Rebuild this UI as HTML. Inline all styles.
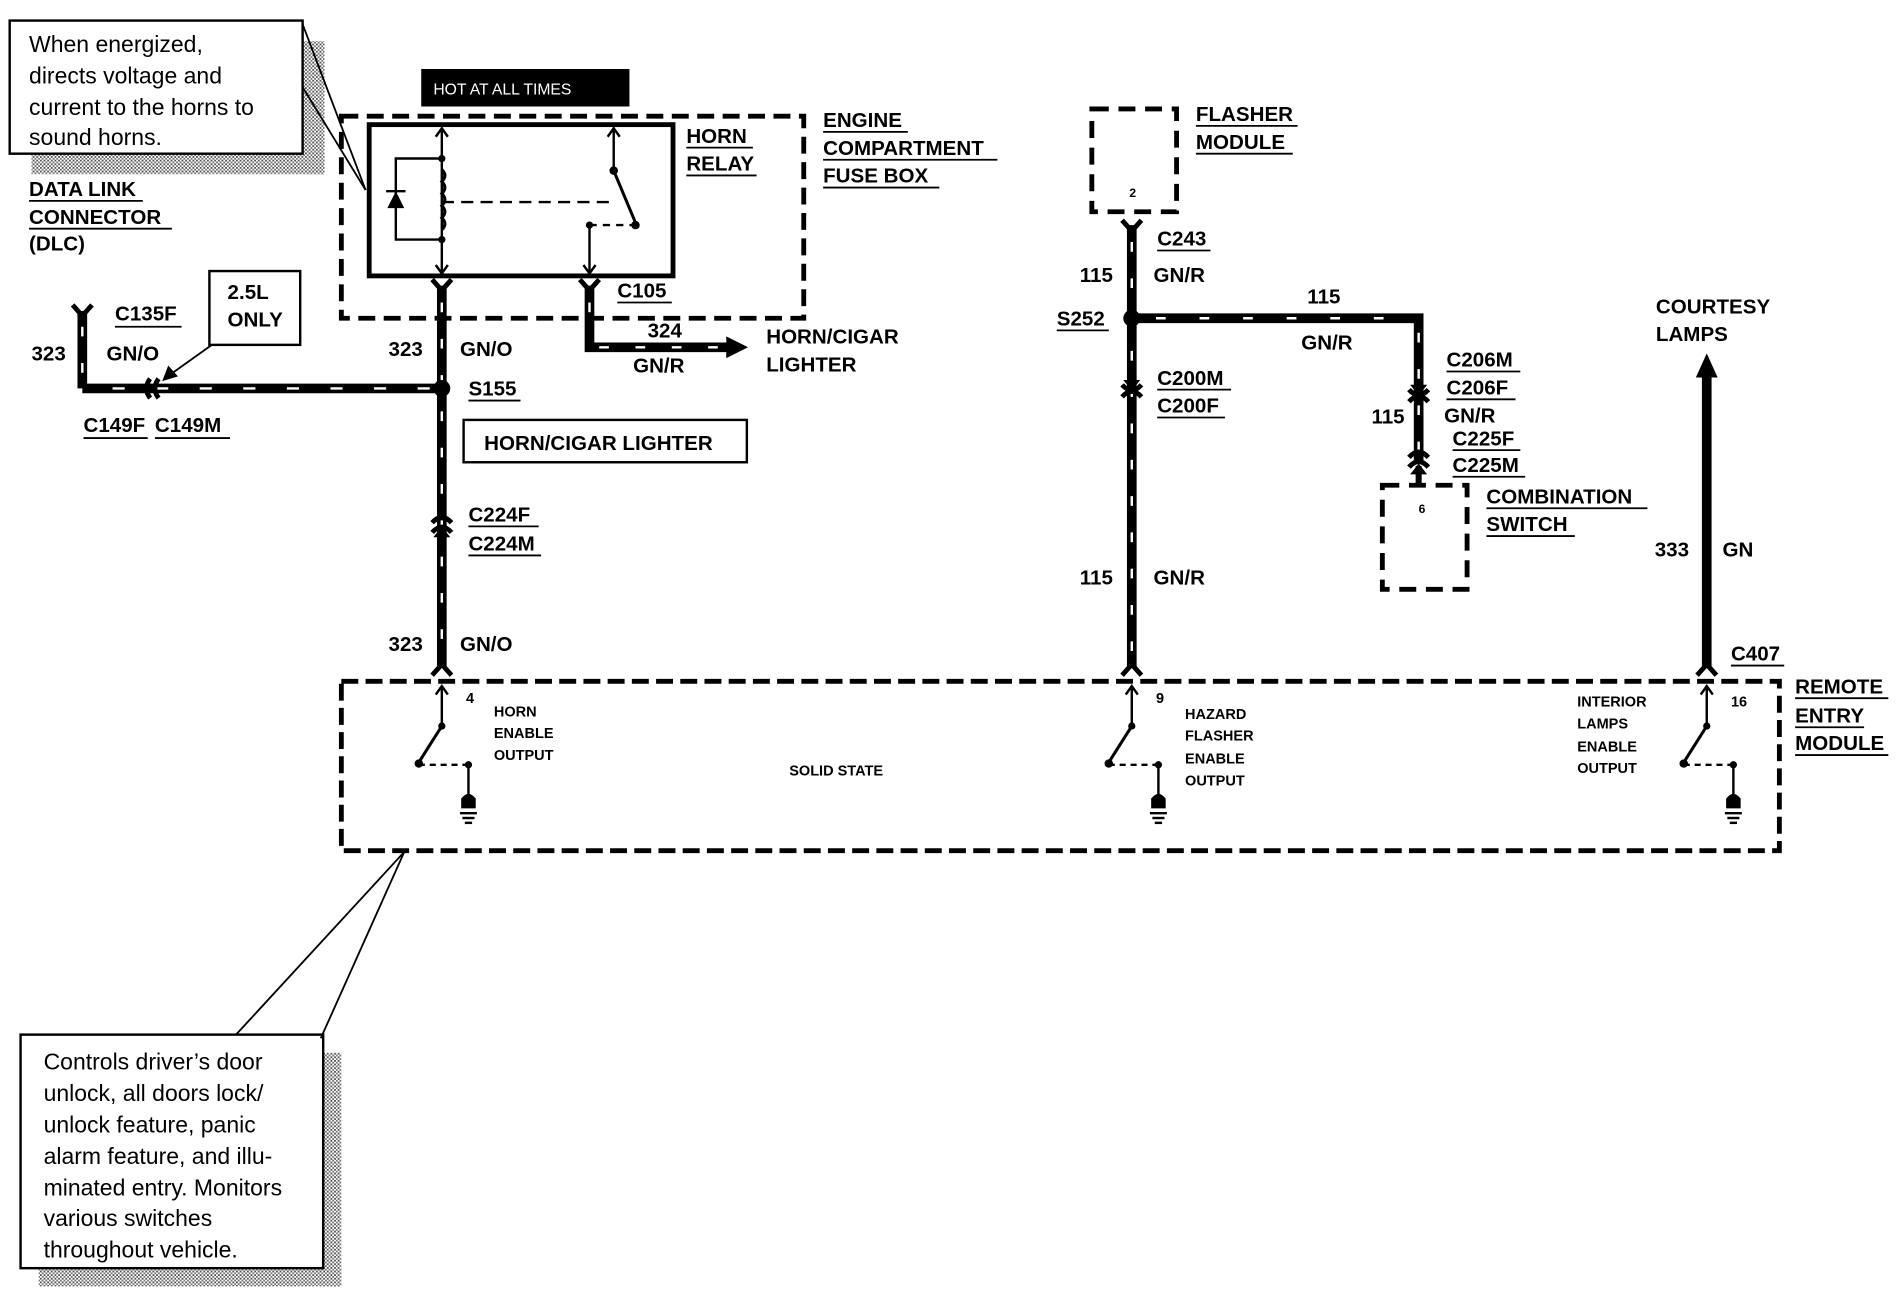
<!DOCTYPE html>
<html><head><meta charset="utf-8"><style>
html,body{margin:0;padding:0;background:#fff}
svg{display:block}
text{font-family:"Liberation Sans",Arial,sans-serif;font-weight:bold;fill:#000;font-size:17px}
.n{font-weight:normal;font-size:19px}
.s{font-size:12px}
</style></head><body>
<svg width="1898" height="1296" viewBox="0 0 1568 1071" preserveAspectRatio="none" xmlns="http://www.w3.org/2000/svg">
<defs>
<pattern id="h" width="3" height="3" patternUnits="userSpaceOnUse"><rect width="3" height="3" fill="#fff"/><rect width="1.5" height="1.5" fill="#555"/><rect x="1.5" y="1.5" width="1.5" height="1.5" fill="#777"/></pattern>
</defs>
<rect x="250" y="34" width="18" height="110" fill="url(#h)"/>
<rect x="26" y="127" width="242" height="17" fill="url(#h)"/>
<rect x="8" y="17" width="242" height="110" fill="#fff" stroke="#000" stroke-width="2"/>
<text class="n" x="24" y="43">When energized,</text>
<text class="n" x="24" y="69">directs voltage and</text>
<text class="n" x="24" y="95">current to the horns to</text>
<text class="n" x="24" y="120">sound horns.</text>
<line x1="250" y1="20" x2="302" y2="157" stroke="#000" stroke-width="1.5"/>
<line x1="250" y1="72" x2="302" y2="157" stroke="#000" stroke-width="1.5"/>

<text x="24" y="162">DATA LINK</text><line x1="24" y1="166" x2="118" y2="166" stroke="#000" stroke-width="1.5"/>
<text x="24" y="185">CONNECTOR</text><line x1="24" y1="189" x2="142" y2="189" stroke="#000" stroke-width="1.5"/>
<text x="24" y="207">(DLC)</text>

<rect x="348" y="57" width="172" height="31" fill="#000"/>
<text x="358" y="78" class="s" style="fill:#fff;font-weight:normal;font-size:13px">HOT AT ALL TIMES</text>

<rect x="282" y="96" width="382" height="167" fill="none" stroke="#000" stroke-width="4" stroke-dasharray="14 7"/>
<rect x="305" y="103" width="251" height="125" fill="none" stroke="#000" stroke-width="4"/>
<g stroke="#000" stroke-width="2" fill="none">
<line x1="365" y1="106" x2="365" y2="226"/>
<polyline points="360,113 365,106 370,113"/>
<polyline points="360,219 365,226 370,219"/>
<polyline points="365,131 327,131 327,198 365,198"/>
<path d="M365,140 q5,5 0,10 q5,5 0,10 q5,5 0,10 q5,5 0,10 q5,5 0,10" stroke-width="2.5"/>
<line x1="365" y1="167" x2="505" y2="167" stroke-dasharray="10 6"/>
<line x1="507" y1="106" x2="507" y2="141"/>
<polyline points="502,113 507,106 512,113"/>
<line x1="507" y1="141" x2="525" y2="184" stroke-width="2.5"/>
<line x1="487" y1="186" x2="525" y2="186" stroke-dasharray="6 5"/>
<line x1="487" y1="186" x2="487" y2="226"/>
<polyline points="482,219 487,226 492,219"/>
</g>
<polygon points="320,172 334,172 327,158" fill="#000"/>
<line x1="319" y1="158" x2="335" y2="158" stroke="#000" stroke-width="2"/>
<circle cx="365" cy="131" r="3" fill="#000"/><circle cx="365" cy="198" r="3" fill="#000"/>
<circle cx="507" cy="141" r="3.5" fill="#000"/><circle cx="525" cy="186" r="3.5" fill="#000"/><circle cx="487" cy="186" r="3" fill="#000"/>
<text x="567" y="118">HORN</text><line x1="567" y1="122" x2="622" y2="122" stroke="#000" stroke-width="1.5"/>
<text x="567" y="141">RELAY</text><line x1="567" y1="145" x2="625" y2="145" stroke="#000" stroke-width="1.5"/>
<text x="680" y="105">ENGINE</text><line x1="680" y1="109" x2="750" y2="109" stroke="#000" stroke-width="1.5"/>
<text x="680" y="128">COMPARTMENT</text><line x1="680" y1="132" x2="824" y2="132" stroke="#000" stroke-width="1.5"/>
<text x="680" y="151">FUSE BOX</text><line x1="680" y1="155" x2="776" y2="155" stroke="#000" stroke-width="1.5"/>

<g stroke="#000" stroke-width="8" fill="none" stroke-linejoin="miter">
<line x1="365" y1="236" x2="365" y2="552"/>
<line x1="365" y1="321" x2="68" y2="321"/>
<polyline points="68,257 68,321"/>
<polyline points="487,236 487,287 603,287"/>
<line x1="935" y1="186" x2="935" y2="552"/>
<polyline points="935,263 1172,263 1172,383"/>
<line x1="1172" y1="385" x2="1172" y2="402" stroke-width="5"/>
<line x1="1410" y1="310" x2="1410" y2="552"/>
</g>
<g stroke="#fff" stroke-width="2" fill="none">
<line x1="365" y1="250" x2="365" y2="545" stroke-dasharray="8 22"/>
<line x1="355" y1="321" x2="80" y2="321" stroke-dasharray="10 26"/>
<line x1="68" y1="270" x2="68" y2="312" stroke-dasharray="8 22"/>
<line x1="487" y1="250" x2="487" y2="280" stroke-dasharray="8 22"/>
<line x1="495" y1="287" x2="598" y2="287" stroke-dasharray="8 22"/>
<line x1="935" y1="200" x2="935" y2="545" stroke-dasharray="8 22"/>
<line x1="955" y1="263" x2="1165" y2="263" stroke-dasharray="8 28"/>
<line x1="1172" y1="275" x2="1172" y2="375" stroke-dasharray="8 22"/>
</g>
<polygon points="600,278 618,287 600,296" fill="#000"/>
<polygon points="1401,312 1410,292 1419,312" fill="#000"/>
<g stroke="#000" stroke-width="4" fill="none">
<path d="M357,231 L365,240 L373,231"/><path d="M479,231 L487,240 L495,231"/>
<path d="M60,252 L68,261 L76,252"/><path d="M927,182 L935,191 L943,182"/>
<path d="M357,558 L365,549 L373,558"/><path d="M927,558 L935,549 L943,558"/><path d="M1402,558 L1410,549 L1418,558"/>
<path d="M357,432 q8,-9 16,0"/><path d="M357,440 q8,-9 16,0"/>
<path d="M927,318 q8,9 16,0"/><path d="M927,328 q8,-9 16,0"/>
<path d="M1164,322 q8,9 16,0"/><path d="M1164,332 q8,-9 16,0"/>
<path d="M1164,378 q8,-9 16,0"/><path d="M1164,386 q8,-9 16,0"/>
<path d="M124,313 q-6,8 0,16"/><path d="M131,313 q-6,8 0,16"/>
</g>
<polygon points="358,444 365,435 372,444" fill="#000"/>
<polygon points="928,314 935,323 942,314" fill="#000"/>
<polygon points="1165,318 1172,327 1179,318" fill="#000"/>
<polygon points="1165,392 1172,383 1179,392" fill="#000"/>
<circle cx="365" cy="321" r="7" fill="#000"/>
<circle cx="935" cy="263" r="7" fill="#000"/>

<text x="321" y="294">323</text><text x="380" y="294">GN/O</text>
<text x="387" y="327">S155</text><line x1="387" y1="331" x2="430" y2="331" stroke="#000" stroke-width="1.5"/>
<text x="510" y="246">C105</text><line x1="510" y1="250" x2="555" y2="250" stroke="#000" stroke-width="1.5"/>
<text x="535" y="279">324</text>
<text x="523" y="308">GN/R</text>
<text x="633" y="284">HORN/CIGAR</text><text x="633" y="307">LIGHTER</text>
<rect x="383" y="347" width="234" height="35" fill="none" stroke="#000" stroke-width="2"/>
<text x="400" y="372">HORN/CIGAR LIGHTER</text>
<text x="387" y="431">C224F</text><line x1="387" y1="435" x2="445" y2="435" stroke="#000" stroke-width="1.5"/>
<text x="387" y="455">C224M</text><line x1="387" y1="459" x2="447" y2="459" stroke="#000" stroke-width="1.5"/>
<text x="321" y="538">323</text><text x="380" y="538">GN/O</text>
<text x="95" y="265">C135F</text><line x1="95" y1="270" x2="150" y2="270" stroke="#000" stroke-width="1.5"/>
<text x="88" y="298">GN/O</text><text x="26" y="298">323</text>
<text x="69" y="357">C149F</text><line x1="69" y1="362" x2="122" y2="362" stroke="#000" stroke-width="1.5"/>
<text x="128" y="357">C149M</text><line x1="128" y1="362" x2="190" y2="362" stroke="#000" stroke-width="1.5"/>
<rect x="173" y="224" width="75" height="61" fill="#fff" stroke="#000" stroke-width="2"/>
<text x="188" y="247">2.5L</text><text x="188" y="270">ONLY</text>
<line x1="175" y1="285" x2="140" y2="310" stroke="#000" stroke-width="1.5"/>
<polygon points="134,315 139,302 147,311" fill="#000"/>

<rect x="902" y="90" width="70" height="85" fill="none" stroke="#000" stroke-width="4" stroke-dasharray="14 8"/>
<text x="933" y="163" class="s" style="font-size:10px">2</text>
<text x="988" y="100">FLASHER</text><line x1="988" y1="104" x2="1072" y2="104" stroke="#000" stroke-width="1.5"/>
<text x="988" y="123">MODULE</text><line x1="988" y1="127" x2="1068" y2="127" stroke="#000" stroke-width="1.5"/>
<text x="956" y="203">C243</text><line x1="956" y1="207" x2="1000" y2="207" stroke="#000" stroke-width="1.5"/>
<text x="892" y="233">115</text><text x="953" y="233">GN/R</text>
<text x="873" y="269">S252</text><line x1="873" y1="273" x2="916" y2="273" stroke="#000" stroke-width="1.5"/>
<text x="1080" y="251">115</text><text x="1075" y="289">GN/R</text>
<text x="956" y="318">C200M</text><line x1="956" y1="322" x2="1017" y2="322" stroke="#000" stroke-width="1.5"/>
<text x="956" y="341">C200F</text><line x1="956" y1="345" x2="1012" y2="345" stroke="#000" stroke-width="1.5"/>
<text x="1195" y="303">C206M</text><line x1="1195" y1="307" x2="1256" y2="307" stroke="#000" stroke-width="1.5"/>
<text x="1195" y="326">C206F</text><line x1="1195" y1="330" x2="1252" y2="330" stroke="#000" stroke-width="1.5"/>
<text x="1193" y="349">GN/R</text><text x="1133" y="350">115</text>
<text x="1200" y="368">C225F</text><line x1="1200" y1="372" x2="1256" y2="372" stroke="#000" stroke-width="1.5"/>
<text x="1200" y="390">C225M</text><line x1="1200" y1="394" x2="1260" y2="394" stroke="#000" stroke-width="1.5"/>
<rect x="1142" y="401" width="70" height="86" fill="none" stroke="#000" stroke-width="4" stroke-dasharray="14 8"/>
<text x="1172" y="424" class="s" style="font-size:10px">6</text>
<text x="1228" y="416">COMBINATION</text><line x1="1228" y1="420" x2="1361" y2="420" stroke="#000" stroke-width="1.5"/>
<text x="1228" y="439">SWITCH</text><line x1="1228" y1="443" x2="1301" y2="443" stroke="#000" stroke-width="1.5"/>
<text x="892" y="483">115</text><text x="953" y="483">GN/R</text>
<text x="1368" y="259">COURTESY</text><text x="1368" y="282">LAMPS</text>
<text x="1367" y="460">333</text><text x="1423" y="460">GN</text>
<text x="1430" y="546">C407</text><line x1="1430" y1="550" x2="1474" y2="550" stroke="#000" stroke-width="1.5"/>

<rect x="282" y="563" width="1188" height="140" fill="none" stroke="#000" stroke-width="4" stroke-dasharray="14 6"/>
<text x="1483" y="573">REMOTE</text><line x1="1483" y1="577" x2="1560" y2="577" stroke="#000" stroke-width="1.5"/>
<text x="1483" y="597">ENTRY</text><line x1="1483" y1="601" x2="1540" y2="601" stroke="#000" stroke-width="1.5"/>
<text x="1483" y="620">MODULE</text><line x1="1483" y1="624" x2="1560" y2="624" stroke="#000" stroke-width="1.5"/>
<g id="sw">
<g stroke="#000" stroke-width="2" fill="none">
<line x1="365" y1="567" x2="365" y2="600"/>
<polyline points="360,574 365,567 370,574"/>
<line x1="365" y1="600" x2="346" y2="630" stroke-width="2.5"/>
<line x1="346" y1="632" x2="385" y2="632" stroke-dasharray="5 4"/>
<line x1="387" y1="632" x2="387" y2="658"/>
<line x1="380" y1="672" x2="394" y2="672"/>
<line x1="382" y1="676" x2="392" y2="676"/>
<line x1="384" y1="680" x2="390" y2="680"/>
</g>
<circle cx="365" cy="600" r="3" fill="#000"/><circle cx="346" cy="631" r="3.5" fill="#000"/><circle cx="387" cy="632" r="3" fill="#000"/>
<path d="M381,668 L381,660 Q387,652 393,660 L393,668 Z" fill="#000"/>
</g>
<use href="#sw" x="570"/>
<use href="#sw" x="1045"/>
<text x="385" y="581" class="s">4</text>
<text x="408" y="592" class="s">HORN</text><text x="408" y="610" class="s">ENABLE</text><text x="408" y="628" class="s">OUTPUT</text>
<text x="652" y="641" class="s">SOLID STATE</text>
<text x="955" y="581" class="s">9</text>
<text x="979" y="594" class="s">HAZARD</text><text x="979" y="612" class="s">FLASHER</text><text x="979" y="631" class="s">ENABLE</text><text x="979" y="649" class="s">OUTPUT</text>
<text x="1303" y="584" class="s">INTERIOR</text><text x="1303" y="602" class="s">LAMPS</text><text x="1303" y="621" class="s">ENABLE</text><text x="1303" y="639" class="s">OUTPUT</text>
<text x="1430" y="584" class="s">16</text>

<rect x="267" y="870" width="15" height="193" fill="url(#h)"/>
<rect x="32" y="1048" width="250" height="15" fill="url(#h)"/>
<rect x="17" y="855" width="250" height="193" fill="#fff" stroke="#000" stroke-width="2"/>
<line x1="195" y1="855" x2="334" y2="704" stroke="#000" stroke-width="1.5"/>
<line x1="265" y1="858" x2="334" y2="704" stroke="#000" stroke-width="1.5"/>
<text class="n" x="36" y="884">Controls driver’s door</text>
<text class="n" x="36" y="910">unlock, all doors lock/</text>
<text class="n" x="36" y="936">unlock feature,  panic</text>
<text class="n" x="36" y="962">alarm feature, and illu-</text>
<text class="n" x="36" y="988">minated entry. Monitors</text>
<text class="n" x="36" y="1013">various switches</text>
<text class="n" x="36" y="1039">throughout vehicle.</text>
</svg>
</body></html>
